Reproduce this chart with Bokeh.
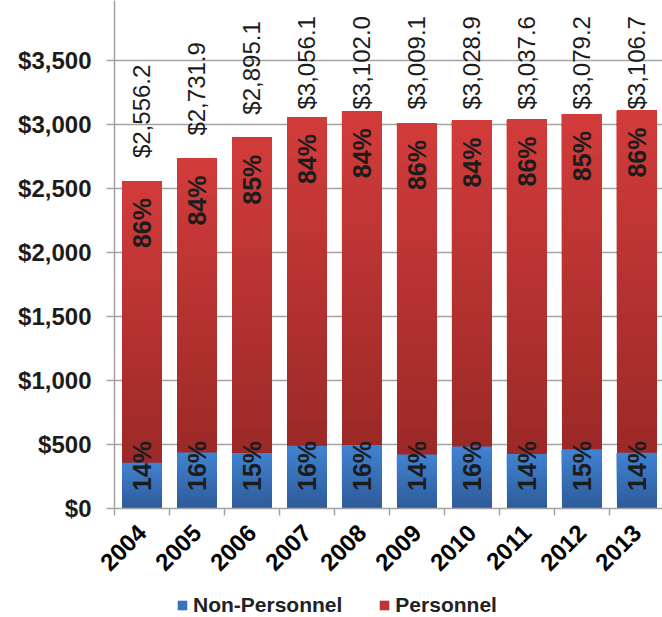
import math
from bokeh.plotting import figure
from bokeh.layouts import column
from bokeh.models import Range1d, FixedTicker, ColumnDataSource, Legend, LegendItem
from bokeh.core.properties import value
from bokeh.embed import file_html
from bokeh.resources import INLINE

# ---- data -------------------------------------------------------------
years = ["2004", "2005", "2006", "2007", "2008", "2009", "2010", "2011", "2012", "2013"]
totals = [2556.2, 2731.9, 2895.1, 3056.1, 3102.0, 3009.1, 3028.9, 3037.6, 3079.2, 3106.7]
non_personnel_pct = [14, 16, 15, 16, 16, 14, 16, 14, 15, 14]
personnel_pct = [86, 84, 85, 84, 84, 86, 84, 86, 85, 86]
y_ticks = [0, 500, 1000, 1500, 2000, 2500, 3000, 3500]
y_tick_labels = ["$0", "$500", "$1,000", "$1,500", "$2,000", "$2,500", "$3,000", "$3,500"]
series_names = ["Non-Personnel", "Personnel"]

# ---- layout constants -------------------------------------------------
W = 662
LEGEND_H = 34
BORDER_LEFT, BORDER_BOTTOM = 114, 75
FRAME_W, FRAME_H = W - BORDER_LEFT, 508
Y_TOP = 3966.0
UPP = Y_TOP / FRAME_H          # data units per screen pixel (vertical)
BAR_W = 0.727
FONT = "Liberation Sans"
TEXT_COLOR = "#1c1c1c"
GRID_COLOR = "#a3a3a3"
BLUE_DARK, BLUE_LIGHT = "#2e5b98", "#4183d3"
RED_DARK, RED_LIGHT = "#9b2927", "#d23c3b"

p = figure(frame_width=FRAME_W, frame_height=FRAME_H,
           output_backend="svg", toolbar_location=None,
           x_range=Range1d(-0.5, 9.464), y_range=Range1d(0, Y_TOP),
           min_border_left=BORDER_LEFT, min_border_right=0,
           min_border_top=0, min_border_bottom=BORDER_BOTTOM)
p.outline_line_color = None
p.background_fill_color = "white"
p.border_fill_color = "white"


def lerp_hex(c0, c1, t):
    a = [int(c0[i:i + 2], 16) for i in (1, 3, 5)]
    b = [int(c1[i:i + 2], 16) for i in (1, 3, 5)]
    return "#%02x%02x%02x" % tuple(round(a[j] + (b[j] - a[j]) * t) for j in range(3))


# Each stacked segment is drawn as overlapping bands (each running from its
# own bottom up to the segment top) to shade the bar from dark to light.
N_BANDS = 40


def shaded_segments(bottoms, tops, dark, light):
    xs, bs, ts, cs = [], [], [], []
    for i, (b0, t0) in enumerate(zip(bottoms, tops)):
        for k in range(N_BANDS):
            xs.append(i)
            bs.append(b0 + (t0 - b0) * k / N_BANDS)
            ts.append(t0)
            cs.append(lerp_hex(dark, light, (k + 0.5) / N_BANDS))
    return ColumnDataSource(dict(x=xs, bottom=bs, top=ts, color=cs))


non_personnel = [t * pct / 100 for t, pct in zip(totals, non_personnel_pct)]
zeros = [0] * len(totals)

src_np = shaded_segments(zeros, non_personnel, BLUE_DARK, BLUE_LIGHT)
src_p = shaded_segments(non_personnel, totals, RED_DARK, RED_LIGHT)

p.vbar(x="x", bottom="bottom", top="top", width=BAR_W, source=src_np,
       fill_color="color", line_color=None)
p.vbar(x="x", bottom="bottom", top="top", width=BAR_W, source=src_p,
       fill_color="color", line_color=None)

# ---- labels -----------------------------------------------------------
xs = list(range(len(years)))
total_text = ["${:,.1f}".format(t) for t in totals]
label_cap = Y_TOP - (14 + 95) * UPP
total_y = [min(t + 23 * UPP, label_cap) for t in totals]
p.text(x=xs, y=total_y, text=total_text, angle=math.pi / 2,
       text_align="left", text_baseline="middle",
       text_font=value(FONT), text_font_size="24px", text_color=TEXT_COLOR)

p_y = [t - 17 * UPP for t in totals]
p.text(x=xs, y=p_y, text=["%d%%" % v for v in personnel_pct], angle=math.pi / 2,
       text_align="right", text_baseline="middle", text_font_style="bold",
       text_font=value(FONT), text_font_size="25px", text_color=TEXT_COLOR)

np_y = [17.5 * UPP] * len(totals)
p.text(x=xs, y=np_y, text=["%d%%" % v for v in non_personnel_pct], angle=math.pi / 2,
       text_align="left", text_baseline="middle", text_font_style="bold",
       text_font=value(FONT), text_font_size="25px", text_color=TEXT_COLOR)

# ---- axes & grid ------------------------------------------------------
p.yaxis.ticker = FixedTicker(ticks=y_ticks)
p.yaxis.major_label_overrides = dict(zip(y_ticks, y_tick_labels))
p.yaxis.major_label_text_font = FONT
p.yaxis.major_label_text_font_size = "24px"
p.yaxis.major_label_text_font_style = "bold"
p.yaxis.major_label_text_color = TEXT_COLOR
p.yaxis.major_label_standoff = 15
p.yaxis.major_tick_out = 8
p.yaxis.major_tick_in = 0
p.yaxis.minor_tick_line_color = None
p.yaxis.axis_line_color = GRID_COLOR
p.yaxis.axis_line_width = 1.5
p.yaxis.major_tick_line_color = GRID_COLOR
p.yaxis.major_tick_line_width = 1.5

p.xaxis.ticker = FixedTicker(ticks=xs, minor_ticks=[i - 0.5 for i in range(len(years) + 1)])
p.xaxis.major_label_overrides = dict(zip(xs, years))
p.xaxis.major_label_orientation = math.pi / 4
p.xaxis.major_label_text_font = FONT
p.xaxis.major_label_text_font_size = "24px"
p.xaxis.major_label_text_font_style = "bold"
p.xaxis.major_label_text_color = "#000000"
p.xaxis.major_label_standoff = 13
p.xaxis.major_tick_line_color = None
p.xaxis.minor_tick_out = 7
p.xaxis.minor_tick_in = 0
p.xaxis.minor_tick_line_color = GRID_COLOR
p.xaxis.minor_tick_line_width = 1.5
p.xaxis.axis_line_color = GRID_COLOR
p.xaxis.axis_line_width = 1.5

p.xgrid.grid_line_color = None
p.ygrid.ticker = FixedTicker(ticks=y_ticks)
p.ygrid.grid_line_color = GRID_COLOR
p.ygrid.grid_line_width = 1.5

# ---- legend strip under the chart ---------------------------------------
leg = figure(width=W, height=LEGEND_H, output_backend="svg", toolbar_location=None,
             x_range=Range1d(0, 1), y_range=Range1d(0, 1),
             min_border_left=0, min_border_right=0, min_border_top=0, min_border_bottom=0)
leg.axis.visible = False
leg.grid.visible = False
leg.outline_line_color = None
leg.background_fill_color = "white"
leg.border_fill_color = "white"

swatch_colors = [lerp_hex(BLUE_DARK, BLUE_LIGHT, 0.6), lerp_hex(RED_DARK, RED_LIGHT, 0.6)]
items = []
for name, color in zip(series_names, swatch_colors):
    # swatch renderer kept outside the visible range; only its legend entry shows
    r = leg.vbar(x=[-5], top=[-5], width=0.1, fill_color=color, line_color=None)
    items.append(LegendItem(label=name, renderers=[r]))

# the strip's frame lines up with the chart frame (starts at BORDER_LEFT)
legend = Legend(items=items, orientation="horizontal", location=(62, 0))
legend.glyph_width = 12
legend.glyph_height = 12
legend.label_standoff = 5
legend.spacing = 36
legend.padding = 0
legend.margin = 0
legend.border_line_color = None
legend.background_fill_alpha = 0
legend.label_text_font = FONT
legend.label_text_font_size = "21px"
legend.label_text_font_style = "bold"
legend.label_text_color = "#222222"
leg.add_layout(legend, "center")

layout = column(p, leg, spacing=0)
open("out.html", "w").write(file_html(layout, INLINE))
